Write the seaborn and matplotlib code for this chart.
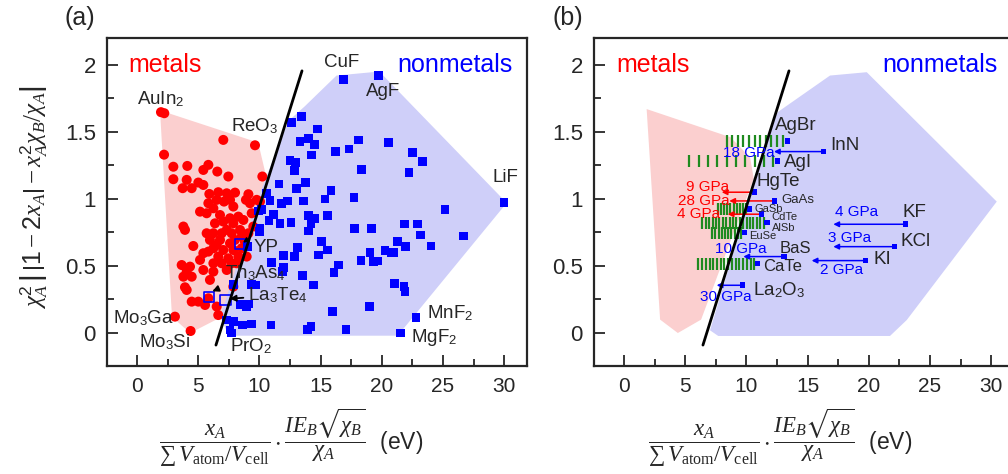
import numpy as np
import pandas as pd
import matplotlib
matplotlib.use("Agg")
import matplotlib.pyplot as plt
import seaborn as sns
from matplotlib.patches import Polygon

# ---------------- data: panel (a) ----------------
metal_x = [1.96, 2.23, 7.05, 9.64, 2.21, 2.97, 4.11, 5.42, 5.83, 6.56, 7.46, 2.97, 4.06, 5.01, 3.73, 4.47,
           5.42, 10.24, 5.91, 6.64, 7.33, 8.01, 9.10, 9.78, 6.51, 7.11, 5.83, 5.15, 6.24, 6.78, 7.60, 8.28,
           9.23, 10.05, 9.37, 3.79, 3.92, 6.37, 7.05, 7.87, 8.42, 6.24, 6.92, 7.73, 8.55, 9.10, 6.78, 7.60,
           6.24, 7.05, 7.87, 8.55, 4.60, 5.83, 6.64, 7.46, 8.28, 8.96, 5.15, 6.24, 6.92, 7.73, 3.65, 4.33,
           5.42, 6.24, 4.06, 3.79, 4.47, 7.87, 3.92, 4.06, 4.47, 5.01, 5.83, 5.56, 6.51, 6.64, 3.10, 4.38,
           5.96, 8.00, 7.33, 8.82, 6.51, 8.14, 5.69, 7.87, 5.69, 7.60, 8.69, 5.42, 7.33, 5.96, 9.50, 8.90]
metal_y = [1.647, 1.639, 1.44, 1.40, 1.33, 1.24, 1.246, 1.216, 1.254, 1.204, 1.167, 1.147, 1.142, 1.122, 1.08, 1.08,
           1.104, 1.167, 1.037, 1.05, 1.042, 1.047, 1.035, 0.993, 0.993, 0.98, 0.968, 0.905, 0.93, 0.88, 0.856, 0.868,
           0.968, 0.98, 0.893, 0.794, 0.769, 0.818, 0.831, 0.818, 0.769, 0.744, 0.744, 0.744, 0.719, 0.744, 0.694, 0.669,
           0.632, 0.619, 0.619, 0.632, 0.649, 0.607, 0.570, 0.557, 0.570, 0.570, 0.545, 0.52, 0.52, 0.52, 0.507, 0.495,
           0.47, 0.458, 0.458, 0.42, 0.42, 0.346, 0.341, 0.321, 0.234, 0.234, 0.259, 0.209, 0.197, 0.134, 0.122, 0.015,
           0.694, 0.694, 0.769, 0.68, 0.657, 0.52, 0.893, 0.943, 0.744, 0.993, 0.843, 0.595, 0.47, 0.396, 0.794, 0.993]

nonmetal_x = [16.86, 19.72, 13.45, 12.64, 14.73, 13.32, 14.0, 14.49, 14.27, 16.23, 17.32, 18.08, 20.53, 12.5,
              12.96, 12.85, 18.36, 11.6, 13.04, 13.78, 15.85, 17.73, 10.59, 10.87, 11.82, 12.28, 13.59, 15.36,
              10.19, 11.14, 10.78, 11.68, 12.58, 14.0, 14.54, 15.58, 14.22, 14.0, 9.99, 17.76, 19.17, 15.09,
              13.13, 12.85, 11.96, 14.81, 15.55, 11.0, 11.96, 11.9, 13.53, 16.45, 16.09, 14.41, 18.3, 19.04,
              19.31, 19.66, 20.26, 20.81, 15.96, 18.98, 10.95, 13.94, 14.22, 17.08,
              22.52, 23.31, 22.22, 29.98, 25.16, 21.84, 22.93, 23.18, 26.66, 21.27, 21.95, 21.0, 24.02, 21.02,
              21.81, 21.9, 22.79, 21.54,
              9.01, 7.87, 9.37, 9.72, 8.42, 8.96, 9.1, 7.33, 7.87, 7.6, 7.73, 8.63, 9.37, 9.9, 10.05]
nonmetal_y = [1.888, 1.92, 1.614, 1.572, 1.522, 1.428, 1.453, 1.403, 1.328, 1.353, 1.373, 1.44, 1.42, 1.284,
              1.274, 1.211, 1.221, 1.112, 1.077, 1.122, 1.062, 1.01, 1.042, 0.988, 0.968, 0.985, 0.985, 1.0,
              0.923, 0.881, 0.838, 0.818, 0.823, 0.876, 0.856, 0.876, 0.813, 0.761, 0.756, 0.781, 0.781, 0.682,
              0.637, 0.57, 0.577, 0.582, 0.619, 0.525, 0.488, 0.458, 0.428, 0.507, 0.45, 0.358, 0.54, 0.602,
              0.532, 0.537, 0.614, 0.6, 0.159, 0.2, 0.06, 0.027, 0.047, 0.027,
              1.346, 1.279, 1.197, 0.973, 0.923, 0.813, 0.813, 0.731, 0.724, 0.682, 0.644, 0.602, 0.649, 0.371,
              0.346, 0.308, 0.114, 0.0,
              0.644, 0.36, 0.363, 0.358, 0.214, 0.2, 0.216, 0.097, 0.085, 0.022, 0.0, 0.06, 0.067, 0.91, 0.78]

# exceptions (open squares)
exc_names = ["YP", r"Th$_\mathsf{3}$As$_\mathsf{4}$", r"La$_\mathsf{3}$Te$_\mathsf{4}$"]
exc_x = [8.41, 5.91, 7.22]
exc_y = [0.664, 0.271, 0.246]

# labelled compounds in (a)
lab_a_names = [r"AuIn$_\mathsf{2}$", r"ReO$_\mathsf{3}$", "CuF", "AgF", "LiF", r"MnF$_\mathsf{2}$",
               r"MgF$_\mathsf{2}$", r"Mo$_\mathsf{3}$Ga", r"Mo$_\mathsf{3}$Si", r"PrO$_\mathsf{2}$"]
lab_a_x = [1.92, 9.64, 16.75, 20.1, 30.1, 25.6, 24.3, 0.57, 2.3, 9.3]
lab_a_y = [1.745, 1.54, 2.02, 1.80, 1.157, 0.15, -0.03, 0.11, -0.07, -0.10]

# hull polygons
metal_hull_a_x = [1.88, 9.9, 10.6, 6.9, 4.35, 2.86]
metal_hull_a_y = [1.66, 1.42, 1.15, 0.12, 0.0, 0.12]
nonmetal_hull_a_x = [7.5, 6.8, 10.16, 12.36, 13.7, 16.3, 19.8, 30.2, 21.3]
nonmetal_hull_a_y = [-0.02, 0.12, 1.07, 1.58, 1.69, 1.92, 1.95, 0.97, -0.02]

metal_hull_b_x = [1.85, 8.7, 10.3, 10.6, 6.3, 4.4, 2.95]
metal_hull_b_y = [1.67, 1.46, 1.31, 1.15, 0.10, 0.0, 0.10]
nonmetal_hull_b_x = [7.7, 7.03, 12.17, 12.6, 16.83, 19.83, 30.45, 23.1, 21.73]
nonmetal_hull_b_y = [-0.022, 0.02, 1.59, 1.65, 1.92, 1.945, 0.98, 0.097, -0.022]

# boundary line
line_x = [6.45, 13.48]
line_y = [-0.09, 1.955]

# ---------------- data: panel (b) ----------------
b_names = ["AgBr", "InN", "AgI", "HgTe", "GaAs", "GaSb", "CdTe", "AlSb", "EuSe", "BaS", "CaTe",
           r"La$_\mathsf{2}$O$_\mathsf{3}$", "KF", "KCl", "KI"]
b_x = [13.34, 16.29, 12.55, 10.65, 12.28, 10.24, 11.25, 11.66, 9.83, 13.07, 10.92, 9.69, 23.01, 22.09, 19.74]
b_y = [1.43, 1.353, 1.284, 1.05, 0.985, 0.925, 0.886, 0.823, 0.749, 0.57, 0.517, 0.356, 0.811, 0.644, 0.54]
b_lab_x = [12.34, 16.83, 13.07, 10.84, 12.88, 10.70, 12.06, 12.06, 10.24, 12.75, 11.38, 10.57, 22.77, 22.55, 20.37]
b_lab_y = [1.55, 1.40, 1.27, 1.13, 0.993, 0.922, 0.862, 0.786, 0.722, 0.632, 0.495, 0.316, 0.90, 0.68, 0.55]
b_lab_size = [13.5, 13.5, 13.5, 13.5, 9.5, 8, 8, 8, 8, 12, 12, 13.5, 13.5, 13.5, 13.5]

# pressure-induced transitions
tr_idx = [1, 3, 4, 6, 9, 11, 12, 13, 14]
tr_end = [12.25, 7.98, 8.6, 8.47, 9.75, 7.57, 17.1, 17.1, 15.33]
tr_text = ["18 GPa", "9 GPa", "28 GPa", "4 GPa", "10 GPa", "30 GPa", "4 GPa", "3 GPa", "2 GPa"]
tr_col = ["b", "r", "r", "r", "b", "b", "b", "b", "b"]
tr_tx = [10.2, 6.84, 6.51, 6.13, 9.53, 8.28, 18.98, 18.44, 17.76]
tr_ty = [1.346, 1.092, 0.985, 0.886, 0.624, 0.271, 0.905, 0.706, 0.47]

# green dashed ranges
hatch_y = [1.43, 1.284, 0.925, 0.823, 0.749, 0.517]
hatch_x0 = [8.39, 5.34, 7.7, 6.4, 7.2, 6.07]
hatch_x1 = [12.95, 12.2, 9.95, 11.4, 9.55, 10.65]
hatch_n = [11, 10, 10, 19, 10, 16]

# ---------------- style ----------------
sns.set_style("ticks")
plt.rcParams["font.family"] = ["Liberation Sans", "DejaVu Sans"]
plt.rcParams["mathtext.fontset"] = "custom"
plt.rcParams["mathtext.rm"] = "Liberation Serif"
plt.rcParams["mathtext.it"] = "Liberation Serif:italic"
plt.rcParams["mathtext.bf"] = "Liberation Serif:bold"
plt.rcParams["mathtext.sf"] = "Liberation Sans"
plt.rcParams["mathtext.fallback"] = "stix"

RED = "#ff0000"
BLUE = "#0000ff"
PINK = "#fbcfcf"
LAV = "#cfcff9"
GREEN = "#1f8a1f"

fig = plt.figure(figsize=(10.08, 4.74), dpi=100)
axa = fig.add_axes([107 / 1008, 108 / 474, 420 / 1008, 328 / 474])
axb = fig.add_axes([594 / 1008, 108 / 474, 420 / 1008, 328 / 474])


def style_axes(ax):
    ax.set_xlim(-2.45, 31.86)
    ax.set_ylim(-0.246, 2.2)
    ax.set_xticks([0, 5, 10, 15, 20, 25, 30])
    ax.set_xticks(np.arange(2.5, 31, 5), minor=True)
    ax.set_yticks([0, 0.5, 1, 1.5, 2])
    ax.set_yticklabels(["0", "0.5", "1", "1.5", "2"])
    ax.set_yticks([0.25, 0.75, 1.25, 1.75], minor=True)
    ax.tick_params(which="major", direction="in", length=8, width=1.3, pad=8)
    ax.tick_params(which="minor", direction="in", length=5, width=1.3)
    ax.tick_params(axis="y", labelsize=16)
    ax.tick_params(axis="x", labelsize=15)
    for s in ax.spines.values():
        s.set_linewidth(1.6)
        s.set_visible(True)
    ax.set_xlabel("")
    ax.set_ylabel("")


# ---------------- panel (a) ----------------
axa.add_patch(Polygon(np.column_stack([metal_hull_a_x, metal_hull_a_y]), closed=True,
                      facecolor=PINK, edgecolor="none", zorder=1))
axa.add_patch(Polygon(np.column_stack([nonmetal_hull_a_x, nonmetal_hull_a_y]), closed=True,
                      facecolor=LAV, edgecolor="none", zorder=1.1))

dfm = pd.DataFrame({"x": metal_x, "y": metal_y})
dfn = pd.DataFrame({"x": nonmetal_x, "y": nonmetal_y})
sns.scatterplot(data=dfm, x="x", y="y", ax=axa, marker="o", s=52, color=RED, edgecolor="none",
                linewidth=0, zorder=3)
sns.scatterplot(data=dfn, x="x", y="y", ax=axa, marker="s", s=40, color=BLUE, edgecolor="none",
                linewidth=0, zorder=4)
dfe = pd.DataFrame({"x": exc_x, "y": exc_y})
sns.scatterplot(data=dfe, x="x", y="y", ax=axa, marker="s", s=55, facecolor="none", edgecolor=BLUE,
                linewidth=1.2, zorder=5)
sns.lineplot(x=line_x, y=line_y, ax=axa, color="black", linewidth=2, zorder=6)

for n, x, y in zip(lab_a_names, lab_a_x, lab_a_y):
    axa.text(x, y, n, ha="center", va="center", fontsize=13.5, zorder=7)

axa.annotate(exc_names[0], xy=(exc_x[0] + 0.25, exc_y[0] + 0.01), xytext=(9.55, 0.64),
             fontsize=13.5, va="center", ha="left", zorder=7,
             arrowprops=dict(arrowstyle="-|>", color="black", lw=1.1, mutation_scale=7,
                             connectionstyle="arc3,rad=0.5", shrinkA=1, shrinkB=0))
axa.annotate(exc_names[1], xy=(exc_x[1] + 0.25, exc_y[1] + 0.04), xytext=(9.64, 0.45),
             fontsize=13.5, va="center", ha="center", zorder=7,
             arrowprops=dict(arrowstyle="-|>", color="black", lw=1.3, mutation_scale=9,
                             shrinkA=8, shrinkB=0))
axa.annotate(exc_names[2], xy=(exc_x[2] + 0.35, exc_y[2] + 0.01), xytext=(9.07, 0.28),
             fontsize=13.5, va="center", ha="left", zorder=7,
             arrowprops=dict(arrowstyle="-|>", color="black", lw=1.3, mutation_scale=9,
                             shrinkA=1, shrinkB=0))

axa.text(2.3, 2.0, "metals", color=RED, fontsize=18, ha="center", va="center", zorder=7)
axa.text(26.0, 2.0, "nonmetals", color=BLUE, fontsize=18, ha="center", va="center", zorder=7)
style_axes(axa)

# ---------------- panel (b) ----------------
axb.add_patch(Polygon(np.column_stack([metal_hull_b_x, metal_hull_b_y]), closed=True,
                      facecolor=PINK, edgecolor="none", zorder=1))
axb.add_patch(Polygon(np.column_stack([nonmetal_hull_b_x, nonmetal_hull_b_y]), closed=True,
                      facecolor=LAV, edgecolor="none", zorder=1.1))

for y, x0, x1, n in zip(hatch_y, hatch_x0, hatch_x1, hatch_n):
    xs = np.linspace(x0, x1, n)
    sns.scatterplot(x=xs, y=[y] * n, ax=axb, marker="|", s=64, color=GREEN, linewidth=1.6, zorder=3)

for i, xe, t, c, tx, ty in zip(tr_idx, tr_end, tr_text, tr_col, tr_tx, tr_ty):
    col = RED if c == "r" else BLUE
    axb.annotate("", xy=(xe, b_y[i]), xytext=(b_x[i], b_y[i]),
                 arrowprops=dict(arrowstyle="-|>", color=col, lw=1.1, mutation_scale=8,
                                 shrinkA=0, shrinkB=0), zorder=4)
    axb.text(tx, ty, t, color=col, fontsize=11, ha="center", va="center", zorder=7)

dfb = pd.DataFrame({"x": b_x, "y": b_y})
sns.scatterplot(data=dfb, x="x", y="y", ax=axb, marker="s", s=16, color=BLUE, edgecolor="none",
                linewidth=0, zorder=5)
sns.lineplot(x=line_x, y=line_y, ax=axb, color="black", linewidth=2, zorder=6)

for n, x, y, fs in zip(b_names, b_lab_x, b_lab_y, b_lab_size):
    axb.text(x, y, n, ha="left", va="center", fontsize=fs, zorder=7)

axb.text(2.4, 2.0, "metals", color=RED, fontsize=18, ha="center", va="center", zorder=7)
axb.text(25.8, 2.0, "nonmetals", color=BLUE, fontsize=18, ha="center", va="center", zorder=7)
style_axes(axb)

# ---------------- labels ----------------
xlab = (r"$\dfrac{x_A}{\sum\, V_{\mathrm{atom}}/V_{\mathrm{cell}}}\cdot"
        r"\dfrac{IE_B\sqrt{\chi_B}}{\chi_A}$  (eV)")
fig.text(291 / 1008, 1 - 438 / 474, xlab, ha="center", va="center", fontsize=16.5)
fig.text(780 / 1008, 1 - 438 / 474, xlab, ha="center", va="center", fontsize=16.5)
ylab = (r"$\chi_A^\mathsf{2}\,\left|\,\left|\mathsf{1}-\mathsf{2}x_A\right|"
        r"-x_A^\mathsf{2}\chi_B/\chi_A\right|$")
fig.text(34 / 1008, 1 - 197 / 474, ylab, rotation=90, ha="center", va="center", fontsize=18)
fig.text(80 / 1008, 1 - 18 / 474, "(a)", ha="center", va="center", fontsize=18)
fig.text(568 / 1008, 1 - 18 / 474, "(b)", ha="center", va="center", fontsize=18)

fig.savefig("out.png", dpi=100)
